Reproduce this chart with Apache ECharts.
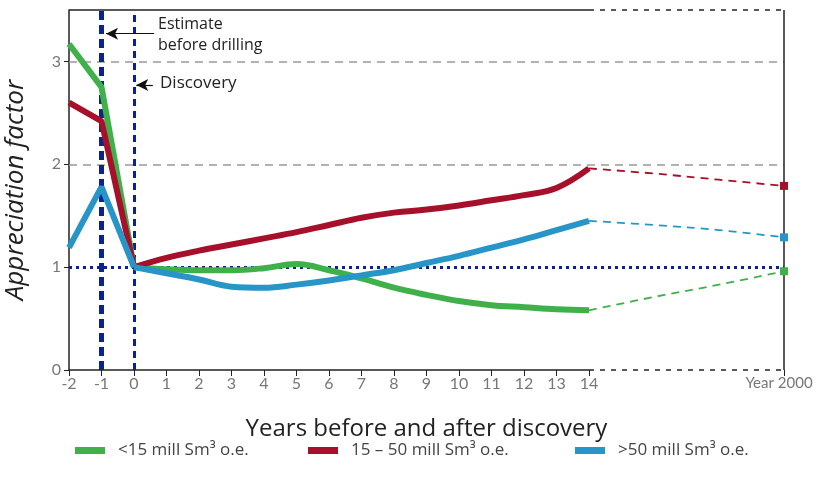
<!DOCTYPE html>
<html>
<head>
<meta charset="utf-8">
<script src="https://cdn.jsdelivr.net/npm/echarts@6/dist/echarts.min.js"></script>
<style>
  html, body { margin: 0; padding: 0; background: #fff; }
  #chart { width: 817px; height: 486px; }
</style>
</head>
<body>
<div id="chart"></div>
<script>
  // years relative to discovery, 20 stands for "Year 2000"
  let years = [-2, -1, 0, 1, 2, 3, 4, 5, 6, 7, 8, 9, 10, 11, 12, 13, 14];
  let small = [3.17, 2.75, 1.0, 0.98, 0.97, 0.97, 0.99, 1.03, 0.97, 0.89, 0.80, 0.73, 0.67, 0.63, 0.61, 0.59, 0.58];
  let medium = [2.60, 2.42, 1.0, 1.09, 1.16, 1.22, 1.28, 1.34, 1.41, 1.48, 1.53, 1.56, 1.60, 1.65, 1.70, 1.77, 1.96];
  let large = [1.19, 1.78, 1.0, 0.94, 0.88, 0.81, 0.80, 0.83, 0.87, 0.92, 0.97, 1.04, 1.11, 1.19, 1.27, 1.36, 1.45];

  // dashed part up to year 2000
  let extYears = [14, 16, 18, 20];
  let smallExt = [0.58, 0.71, 0.83, 0.96];
  let mediumExt = [1.96, 1.91, 1.85, 1.79];
  let largeExt = [1.45, 1.41, 1.36, 1.29];

  let xTicks = [-2, -1, 0, 1, 2, 3, 4, 5, 6, 7, 8, 9, 10, 11, 12, 13, 14, 20];
  let yTicks = [0, 1, 2, 3];
  let names = ['<15 mill Sm³ o.e.', '15 – 50 mill Sm³ o.e.', '>50 mill Sm³ o.e.'];

  function drawChart() {
    let chart = echarts.init(document.getElementById('chart'));
    let color = ['#3fb04a', '#a6102b', '#2895c9'];
    let navy = '#0c228c';
    let font = 'Lato';
    let titleFont = 'Open Sans';
    let values = [small, medium, large];
    let ext = [smallExt, mediumExt, largeExt];
    let legendLeft = [70, 303, 570];

    let option = {
      animation: false,
      textStyle: {fontFamily: font},
      grid: {left: 69, right: 33, top: 10, bottom: 116, outerBoundsMode: 'none'},
      legend: [],
      xAxis: {
        type: 'value',
        min: -2,
        max: 20,
        interval: 1,
        name: 'Years before and after discovery',
        nameLocation: 'middle',
        nameGap: 47,
        nameTextStyle: {fontSize: 24, color: '#222', fontFamily: titleFont},
        axisLine: {show: false},
        axisTick: {show: true, length: 6, customValues: xTicks, lineStyle: {color: '#222'}},
        axisLabel: {
          customValues: xTicks,
          color: '#777',
          fontSize: 16,
          margin: 6,
          formatter: function (v) {
            if (v === 20) return '{y|Year 2000}';
            return String(v);
          },
          rich: {y: {fontSize: 15, color: '#777', padding: [0, 10, 0, 0]}}
        },
        splitLine: {show: false}
      },
      yAxis: {
        type: 'value',
        min: 0,
        max: 3.5,
        interval: 1,
        name: 'Appreciation factor',
        nameLocation: 'middle',
        nameGap: 40,
        nameTextStyle: {fontSize: 26, fontStyle: 'italic', color: '#222', fontFamily: titleFont},
        axisLine: {show: true, onZero: false, lineStyle: {color: '#222', width: 1.5}},
        axisTick: {show: true, length: 5, customValues: yTicks, lineStyle: {color: '#222'}},
        axisLabel: {customValues: yTicks, color: '#777', fontSize: 16, margin: 8},
        splitLine: {show: false}
      },
      graphic: [
        {type: 'text', left: 158, top: 14, style: {text: 'Estimate\nbefore drilling', fontSize: 16, lineHeight: 21, fill: '#222', fontFamily: titleFont}},
        {type: 'text', left: 160, top: 75, style: {text: 'Discovery', fontSize: 17, fill: '#222', fontFamily: titleFont}}
      ],
      series: []
    };

    // frame, grid lines and markers of the two key events
    option.series.push({
      name: 'frame',
      type: 'line',
      data: [],
      z: 5,
      markLine: {
        silent: true,
        symbol: ['none', 'none'],
        label: {show: false},
        data: [
          [{coord: [-2, 3], lineStyle: {color: '#999', type: [8, 6], width: 1.5}}, {coord: [20, 3]}],
          [{coord: [-2, 2], lineStyle: {color: '#999', type: [8, 6], width: 1.5}}, {coord: [20, 2]}],
          [{coord: [-2, 0], lineStyle: {color: '#222', type: 'solid', width: 1.5}}, {coord: [14, 0]}],
          [{coord: [14, 0], lineStyle: {color: '#222', type: [5, 6], width: 1.5}}, {coord: [20, 0]}],
          [{coord: [-2, 3.5], lineStyle: {color: '#222', type: 'solid', width: 1.5}}, {coord: [14, 3.5]}],
          [{coord: [14, 3.5], lineStyle: {color: '#222', type: [5, 6], width: 1.5}}, {coord: [20, 3.5]}],
          [{coord: [20, 0], lineStyle: {color: '#222', type: 'solid', width: 1.5}}, {coord: [20, 3.5]}]
        ]
      }
    });
    option.series.push({
      name: 'events',
      type: 'line',
      data: [],
      z: 20,
      markLine: {
        silent: true,
        symbol: ['none', 'none'],
        label: {show: false},
        data: [
          [{coord: [-2, 1], lineStyle: {color: navy, type: [3, 4], width: 3}}, {coord: [20, 1]}],
          [{coord: [-1, 0], lineStyle: {color: navy, type: [9, 5], width: 5}}, {coord: [-1, 3.5]}],
          [{coord: [0, 0], lineStyle: {color: navy, type: [7, 5], width: 3}}, {coord: [0, 3.5]}],
          [{coord: [0.62, 3.27], symbol: 'none', lineStyle: {color: '#111', type: 'solid', width: 1.2}},
            {coord: [-0.86, 3.27], symbol: 'arrow', symbolSize: [9, 12]}],
          [{coord: [0.58, 2.77], symbol: 'none', lineStyle: {color: '#111', type: 'solid', width: 1.2}},
            {coord: [0.07, 2.77], symbol: 'arrow', symbolSize: [9, 12]}]
        ]
      }
    });

    for (let key = 0; key < values.length; key++) {
      let pre = [];
      let post = [];
      for (let i = 0; i < years.length; i++) {
        if (years[i] <= 0) pre.push([years[i], values[key][i]]);
        if (years[i] >= 0) post.push([years[i], values[key][i]]);
      }
      let extData = [];
      for (let i = 0; i < extYears.length; i++) {
        extData.push([extYears[i], ext[key][i]]);
      }
      // before discovery: straight segments
      option.series.push({
        name: names[key],
        type: 'line',
        data: pre,
        symbol: 'none',
        z: 10,
        lineStyle: {width: 6, color: color[key]},
        itemStyle: {color: color[key]}
      });
      // after discovery: smooth curve
      option.series.push({
        name: names[key],
        type: 'line',
        data: post,
        smooth: 0.4,
        symbol: 'none',
        z: 10,
        lineStyle: {width: 6, color: color[key]},
        itemStyle: {color: color[key]}
      });
      // forecast to year 2000
      option.series.push({
        name: 'ext' + key,
        type: 'line',
        data: extData,
        smooth: 0.4,
        showSymbol: true,
        symbol: function (v) {
          return v[0] === 20 ? 'rect' : 'none';
        },
        symbolSize: 8,
        z: 10,
        lineStyle: {width: 1.8, color: color[key], type: [8, 6]},
        itemStyle: {color: color[key]}
      });
      option.legend.push({
        data: [names[key]],
        left: legendLeft[key],
        top: 437,
        icon: 'rect',
        itemWidth: 30,
        itemHeight: 7,
        itemGap: 0,
        textStyle: {fontSize: 17, color: '#444', fontFamily: titleFont, padding: [0, 0, 0, 8]}
      });
    }

    chart.setOption(option);
  }

  drawChart();
</script>
</body>
</html>
